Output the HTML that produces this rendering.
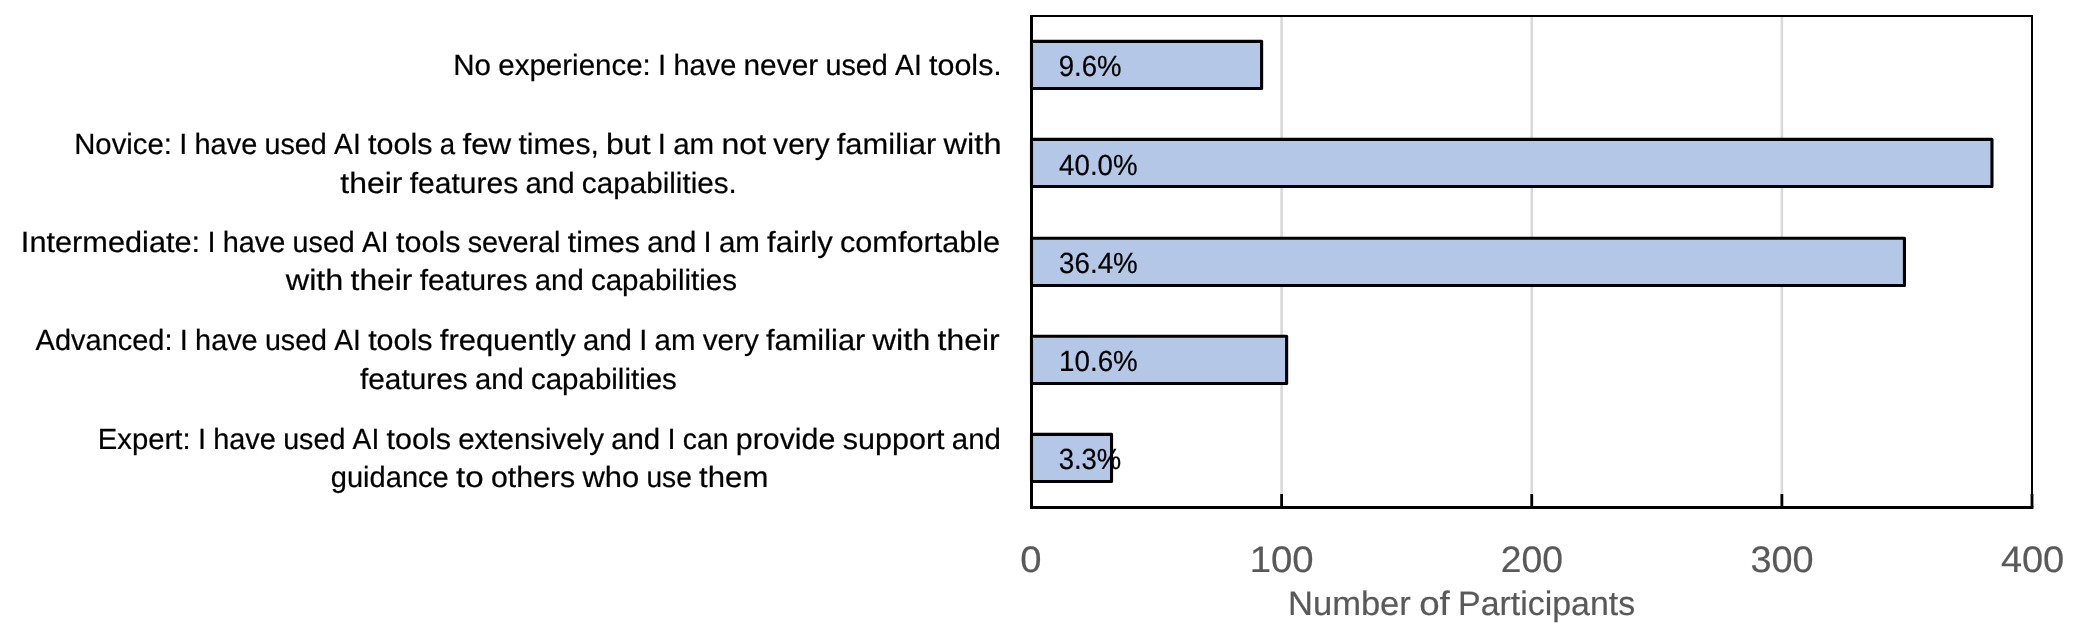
<!DOCTYPE html>
<html><head><meta charset="utf-8"><title>AI tools experience chart</title><style>
html,body{margin:0;padding:0;background:#fff;overflow:hidden;}
svg{display:block;will-change:transform;}
text{font-family:"Liberation Sans",sans-serif;text-rendering:geometricPrecision;}
</style></head><body>
<svg width="2095" height="631" viewBox="0 0 2095 631">
<rect x="0" y="0" width="2095" height="631" fill="#fff"/>
<line x1="1281.62" y1="17" x2="1281.62" y2="507.5" stroke="#d9d9d9" stroke-width="2.6"/>
<line x1="1531.75" y1="17" x2="1531.75" y2="507.5" stroke="#d9d9d9" stroke-width="2.6"/>
<line x1="1781.88" y1="17" x2="1781.88" y2="507.5" stroke="#d9d9d9" stroke-width="2.6"/>
<line x1="1030.0" y1="16" x2="2033" y2="16" stroke="#000" stroke-width="2"/>
<line x1="2032" y1="15" x2="2032" y2="507.5" stroke="#000" stroke-width="2"/>
<rect x="1031.50" y="41.33" width="230.12" height="47.20" fill="#b4c7e7" stroke="#000" stroke-width="3.1" stroke-linejoin="round"/>
<rect x="1031.50" y="139.35" width="960.48" height="47.20" fill="#b4c7e7" stroke="#000" stroke-width="3.1" stroke-linejoin="round"/>
<rect x="1031.50" y="238.30" width="872.94" height="47.20" fill="#b4c7e7" stroke="#000" stroke-width="3.1" stroke-linejoin="round"/>
<rect x="1031.50" y="336.30" width="255.13" height="47.20" fill="#b4c7e7" stroke="#000" stroke-width="3.1" stroke-linejoin="round"/>
<rect x="1031.50" y="434.35" width="80.04" height="47.20" fill="#b4c7e7" stroke="#000" stroke-width="3.1" stroke-linejoin="round"/>
<line x1="1281.62" y1="494" x2="1281.62" y2="507.5" stroke="#000" stroke-width="2.8"/>
<line x1="1531.75" y1="494" x2="1531.75" y2="507.5" stroke="#000" stroke-width="2.8"/>
<line x1="1781.88" y1="494" x2="1781.88" y2="507.5" stroke="#000" stroke-width="2.8"/>
<line x1="2032.00" y1="494" x2="2032.00" y2="507.5" stroke="#000" stroke-width="2.8"/>
<line x1="1031.5" y1="15" x2="1031.5" y2="509.0" stroke="#000" stroke-width="3"/>
<line x1="1030.0" y1="507.5" x2="2033.4" y2="507.5" stroke="#000" stroke-width="3"/>
<text x="453.31" y="74.80" font-size="29.2" fill="#000" stroke="#000" stroke-width="0.2" textLength="37.73" lengthAdjust="spacingAndGlyphs">No</text>
<text x="498.31" y="74.80" font-size="29.2" fill="#000" stroke="#000" stroke-width="0.2" textLength="152.50" lengthAdjust="spacingAndGlyphs">experience:</text>
<text x="658.08" y="74.80" font-size="29.2" fill="#000" stroke="#000" stroke-width="0.2" textLength="8.10" lengthAdjust="spacingAndGlyphs">I</text>
<text x="673.45" y="74.80" font-size="29.2" fill="#000" stroke="#000" stroke-width="0.2" textLength="62.82" lengthAdjust="spacingAndGlyphs">have</text>
<text x="743.54" y="74.80" font-size="29.2" fill="#000" stroke="#000" stroke-width="0.2" textLength="74.63" lengthAdjust="spacingAndGlyphs">never</text>
<text x="825.44" y="74.80" font-size="29.2" fill="#000" stroke="#000" stroke-width="0.2" textLength="62.36" lengthAdjust="spacingAndGlyphs">used</text>
<text x="895.07" y="74.80" font-size="29.2" fill="#000" stroke="#000" stroke-width="0.2" textLength="26.71" lengthAdjust="spacingAndGlyphs">AI</text>
<text x="929.05" y="74.80" font-size="29.2" fill="#000" stroke="#000" stroke-width="0.2" textLength="72.76" lengthAdjust="spacingAndGlyphs">tools.</text>
<text x="74.21" y="153.90" font-size="29.2" fill="#000" stroke="#000" stroke-width="0.2" textLength="97.71" lengthAdjust="spacingAndGlyphs">Novice:</text>
<text x="179.18" y="153.90" font-size="29.2" fill="#000" stroke="#000" stroke-width="0.2" textLength="8.09" lengthAdjust="spacingAndGlyphs">I</text>
<text x="194.53" y="153.90" font-size="29.2" fill="#000" stroke="#000" stroke-width="0.2" textLength="62.74" lengthAdjust="spacingAndGlyphs">have</text>
<text x="264.53" y="153.90" font-size="29.2" fill="#000" stroke="#000" stroke-width="0.2" textLength="62.29" lengthAdjust="spacingAndGlyphs">used</text>
<text x="334.08" y="153.90" font-size="29.2" fill="#000" stroke="#000" stroke-width="0.2" textLength="26.67" lengthAdjust="spacingAndGlyphs">AI</text>
<text x="368.01" y="153.90" font-size="29.2" fill="#000" stroke="#000" stroke-width="0.2" textLength="64.56" lengthAdjust="spacingAndGlyphs">tools</text>
<text x="439.83" y="153.90" font-size="29.2" fill="#000" stroke="#000" stroke-width="0.2" textLength="15.38" lengthAdjust="spacingAndGlyphs">a</text>
<text x="462.48" y="153.90" font-size="29.2" fill="#000" stroke="#000" stroke-width="0.2" textLength="48.74" lengthAdjust="spacingAndGlyphs">few</text>
<text x="518.47" y="153.90" font-size="29.2" fill="#000" stroke="#000" stroke-width="0.2" textLength="80.34" lengthAdjust="spacingAndGlyphs">times,</text>
<text x="606.07" y="153.90" font-size="29.2" fill="#000" stroke="#000" stroke-width="0.2" textLength="44.50" lengthAdjust="spacingAndGlyphs">but</text>
<text x="657.83" y="153.90" font-size="29.2" fill="#000" stroke="#000" stroke-width="0.2" textLength="8.09" lengthAdjust="spacingAndGlyphs">I</text>
<text x="673.18" y="153.90" font-size="29.2" fill="#000" stroke="#000" stroke-width="0.2" textLength="41.04" lengthAdjust="spacingAndGlyphs">am</text>
<text x="721.48" y="153.90" font-size="29.2" fill="#000" stroke="#000" stroke-width="0.2" textLength="44.57" lengthAdjust="spacingAndGlyphs">not</text>
<text x="773.31" y="153.90" font-size="29.2" fill="#000" stroke="#000" stroke-width="0.2" textLength="56.22" lengthAdjust="spacingAndGlyphs">very</text>
<text x="836.79" y="153.90" font-size="29.2" fill="#000" stroke="#000" stroke-width="0.2" textLength="99.53" lengthAdjust="spacingAndGlyphs">familiar</text>
<text x="943.58" y="153.90" font-size="29.2" fill="#000" stroke="#000" stroke-width="0.2" textLength="57.96" lengthAdjust="spacingAndGlyphs">with</text>
<text x="340.32" y="192.90" font-size="29.2" fill="#000" stroke="#000" stroke-width="0.2" textLength="62.16" lengthAdjust="spacingAndGlyphs">their</text>
<text x="409.73" y="192.90" font-size="29.2" fill="#000" stroke="#000" stroke-width="0.2" textLength="108.50" lengthAdjust="spacingAndGlyphs">features</text>
<text x="525.49" y="192.90" font-size="29.2" fill="#000" stroke="#000" stroke-width="0.2" textLength="49.12" lengthAdjust="spacingAndGlyphs">and</text>
<text x="581.87" y="192.90" font-size="29.2" fill="#000" stroke="#000" stroke-width="0.2" textLength="154.93" lengthAdjust="spacingAndGlyphs">capabilities.</text>
<text x="20.89" y="251.80" font-size="29.2" fill="#000" stroke="#000" stroke-width="0.2" textLength="179.24" lengthAdjust="spacingAndGlyphs">Intermediate:</text>
<text x="207.39" y="251.80" font-size="29.2" fill="#000" stroke="#000" stroke-width="0.2" textLength="8.08" lengthAdjust="spacingAndGlyphs">I</text>
<text x="222.72" y="251.80" font-size="29.2" fill="#000" stroke="#000" stroke-width="0.2" textLength="62.66" lengthAdjust="spacingAndGlyphs">have</text>
<text x="292.62" y="251.80" font-size="29.2" fill="#000" stroke="#000" stroke-width="0.2" textLength="62.20" lengthAdjust="spacingAndGlyphs">used</text>
<text x="362.07" y="251.80" font-size="29.2" fill="#000" stroke="#000" stroke-width="0.2" textLength="26.64" lengthAdjust="spacingAndGlyphs">AI</text>
<text x="395.96" y="251.80" font-size="29.2" fill="#000" stroke="#000" stroke-width="0.2" textLength="64.47" lengthAdjust="spacingAndGlyphs">tools</text>
<text x="467.68" y="251.80" font-size="29.2" fill="#000" stroke="#000" stroke-width="0.2" textLength="92.85" lengthAdjust="spacingAndGlyphs">several</text>
<text x="567.78" y="251.80" font-size="29.2" fill="#000" stroke="#000" stroke-width="0.2" textLength="72.22" lengthAdjust="spacingAndGlyphs">times</text>
<text x="647.26" y="251.80" font-size="29.2" fill="#000" stroke="#000" stroke-width="0.2" textLength="49.06" lengthAdjust="spacingAndGlyphs">and</text>
<text x="703.57" y="251.80" font-size="29.2" fill="#000" stroke="#000" stroke-width="0.2" textLength="8.08" lengthAdjust="spacingAndGlyphs">I</text>
<text x="718.90" y="251.80" font-size="29.2" fill="#000" stroke="#000" stroke-width="0.2" textLength="40.98" lengthAdjust="spacingAndGlyphs">am</text>
<text x="767.13" y="251.80" font-size="29.2" fill="#000" stroke="#000" stroke-width="0.2" textLength="65.57" lengthAdjust="spacingAndGlyphs">fairly</text>
<text x="839.95" y="251.80" font-size="29.2" fill="#000" stroke="#000" stroke-width="0.2" textLength="160.25" lengthAdjust="spacingAndGlyphs">comfortable</text>
<text x="285.72" y="290.40" font-size="29.2" fill="#000" stroke="#000" stroke-width="0.2" textLength="57.65" lengthAdjust="spacingAndGlyphs">with</text>
<text x="350.60" y="290.40" font-size="29.2" fill="#000" stroke="#000" stroke-width="0.2" textLength="61.84" lengthAdjust="spacingAndGlyphs">their</text>
<text x="419.66" y="290.40" font-size="29.2" fill="#000" stroke="#000" stroke-width="0.2" textLength="107.95" lengthAdjust="spacingAndGlyphs">features</text>
<text x="534.84" y="290.40" font-size="29.2" fill="#000" stroke="#000" stroke-width="0.2" textLength="48.87" lengthAdjust="spacingAndGlyphs">and</text>
<text x="590.93" y="290.40" font-size="29.2" fill="#000" stroke="#000" stroke-width="0.2" textLength="146.09" lengthAdjust="spacingAndGlyphs">capabilities</text>
<text x="35.61" y="349.90" font-size="29.2" fill="#000" stroke="#000" stroke-width="0.2" textLength="136.91" lengthAdjust="spacingAndGlyphs">Advanced:</text>
<text x="179.76" y="349.90" font-size="29.2" fill="#000" stroke="#000" stroke-width="0.2" textLength="8.07" lengthAdjust="spacingAndGlyphs">I</text>
<text x="195.08" y="349.90" font-size="29.2" fill="#000" stroke="#000" stroke-width="0.2" textLength="62.59" lengthAdjust="spacingAndGlyphs">have</text>
<text x="264.91" y="349.90" font-size="29.2" fill="#000" stroke="#000" stroke-width="0.2" textLength="62.14" lengthAdjust="spacingAndGlyphs">used</text>
<text x="334.29" y="349.90" font-size="29.2" fill="#000" stroke="#000" stroke-width="0.2" textLength="26.61" lengthAdjust="spacingAndGlyphs">AI</text>
<text x="368.15" y="349.90" font-size="29.2" fill="#000" stroke="#000" stroke-width="0.2" textLength="64.41" lengthAdjust="spacingAndGlyphs">tools</text>
<text x="439.79" y="349.90" font-size="29.2" fill="#000" stroke="#000" stroke-width="0.2" textLength="135.91" lengthAdjust="spacingAndGlyphs">frequently</text>
<text x="582.95" y="349.90" font-size="29.2" fill="#000" stroke="#000" stroke-width="0.2" textLength="49.01" lengthAdjust="spacingAndGlyphs">and</text>
<text x="639.20" y="349.90" font-size="29.2" fill="#000" stroke="#000" stroke-width="0.2" textLength="8.07" lengthAdjust="spacingAndGlyphs">I</text>
<text x="654.52" y="349.90" font-size="29.2" fill="#000" stroke="#000" stroke-width="0.2" textLength="40.94" lengthAdjust="spacingAndGlyphs">am</text>
<text x="702.70" y="349.90" font-size="29.2" fill="#000" stroke="#000" stroke-width="0.2" textLength="56.08" lengthAdjust="spacingAndGlyphs">very</text>
<text x="766.03" y="349.90" font-size="29.2" fill="#000" stroke="#000" stroke-width="0.2" textLength="99.29" lengthAdjust="spacingAndGlyphs">familiar</text>
<text x="872.56" y="349.90" font-size="29.2" fill="#000" stroke="#000" stroke-width="0.2" textLength="57.82" lengthAdjust="spacingAndGlyphs">with</text>
<text x="937.62" y="349.90" font-size="29.2" fill="#000" stroke="#000" stroke-width="0.2" textLength="62.03" lengthAdjust="spacingAndGlyphs">their</text>
<text x="359.91" y="389.00" font-size="29.2" fill="#000" stroke="#000" stroke-width="0.2" textLength="107.81" lengthAdjust="spacingAndGlyphs">features</text>
<text x="474.94" y="389.00" font-size="29.2" fill="#000" stroke="#000" stroke-width="0.2" textLength="48.80" lengthAdjust="spacingAndGlyphs">and</text>
<text x="530.95" y="389.00" font-size="29.2" fill="#000" stroke="#000" stroke-width="0.2" textLength="145.89" lengthAdjust="spacingAndGlyphs">capabilities</text>
<text x="97.78" y="448.50" font-size="29.2" fill="#000" stroke="#000" stroke-width="0.2" textLength="92.87" lengthAdjust="spacingAndGlyphs">Expert:</text>
<text x="197.91" y="448.50" font-size="29.2" fill="#000" stroke="#000" stroke-width="0.2" textLength="8.08" lengthAdjust="spacingAndGlyphs">I</text>
<text x="213.24" y="448.50" font-size="29.2" fill="#000" stroke="#000" stroke-width="0.2" textLength="62.66" lengthAdjust="spacingAndGlyphs">have</text>
<text x="283.15" y="448.50" font-size="29.2" fill="#000" stroke="#000" stroke-width="0.2" textLength="62.21" lengthAdjust="spacingAndGlyphs">used</text>
<text x="352.61" y="448.50" font-size="29.2" fill="#000" stroke="#000" stroke-width="0.2" textLength="26.64" lengthAdjust="spacingAndGlyphs">AI</text>
<text x="386.51" y="448.50" font-size="29.2" fill="#000" stroke="#000" stroke-width="0.2" textLength="64.48" lengthAdjust="spacingAndGlyphs">tools</text>
<text x="458.24" y="448.50" font-size="29.2" fill="#000" stroke="#000" stroke-width="0.2" textLength="145.64" lengthAdjust="spacingAndGlyphs">extensively</text>
<text x="611.13" y="448.50" font-size="29.2" fill="#000" stroke="#000" stroke-width="0.2" textLength="49.07" lengthAdjust="spacingAndGlyphs">and</text>
<text x="667.45" y="448.50" font-size="29.2" fill="#000" stroke="#000" stroke-width="0.2" textLength="8.08" lengthAdjust="spacingAndGlyphs">I</text>
<text x="682.78" y="448.50" font-size="29.2" fill="#000" stroke="#000" stroke-width="0.2" textLength="45.78" lengthAdjust="spacingAndGlyphs">can</text>
<text x="735.81" y="448.50" font-size="29.2" fill="#000" stroke="#000" stroke-width="0.2" textLength="99.61" lengthAdjust="spacingAndGlyphs">provide</text>
<text x="842.67" y="448.50" font-size="29.2" fill="#000" stroke="#000" stroke-width="0.2" textLength="101.94" lengthAdjust="spacingAndGlyphs">support</text>
<text x="951.87" y="448.50" font-size="29.2" fill="#000" stroke="#000" stroke-width="0.2" textLength="49.07" lengthAdjust="spacingAndGlyphs">and</text>
<text x="330.80" y="487.40" font-size="29.2" fill="#000" stroke="#000" stroke-width="0.2" textLength="117.98" lengthAdjust="spacingAndGlyphs">guidance</text>
<text x="456.04" y="487.40" font-size="29.2" fill="#000" stroke="#000" stroke-width="0.2" textLength="27.68" lengthAdjust="spacingAndGlyphs">to</text>
<text x="490.97" y="487.40" font-size="29.2" fill="#000" stroke="#000" stroke-width="0.2" textLength="84.25" lengthAdjust="spacingAndGlyphs">others</text>
<text x="582.48" y="487.40" font-size="29.2" fill="#000" stroke="#000" stroke-width="0.2" textLength="56.73" lengthAdjust="spacingAndGlyphs">who</text>
<text x="646.47" y="487.40" font-size="29.2" fill="#000" stroke="#000" stroke-width="0.2" textLength="45.39" lengthAdjust="spacingAndGlyphs">use</text>
<text x="699.11" y="487.40" font-size="29.2" fill="#000" stroke="#000" stroke-width="0.2" textLength="69.22" lengthAdjust="spacingAndGlyphs">them</text>
<text x="1058.63" y="76.30" font-size="29.2" fill="#000" stroke="#000" stroke-width="0.2" textLength="62.87" lengthAdjust="spacingAndGlyphs">9.6%</text>
<text x="1059.12" y="174.60" font-size="29.2" fill="#000" stroke="#000" stroke-width="0.2" textLength="78.49" lengthAdjust="spacingAndGlyphs">40.0%</text>
<text x="1059.07" y="273.00" font-size="29.2" fill="#000" stroke="#000" stroke-width="0.2" textLength="78.72" lengthAdjust="spacingAndGlyphs">36.4%</text>
<text x="1059.08" y="371.00" font-size="29.2" fill="#000" stroke="#000" stroke-width="0.2" textLength="78.71" lengthAdjust="spacingAndGlyphs">10.6%</text>
<text x="1058.63" y="469.00" font-size="29.2" fill="#000" stroke="#000" stroke-width="0.2" textLength="62.69" lengthAdjust="spacingAndGlyphs">3.3%</text>
<text x="1020.36" y="572.00" font-size="36.8" fill="#595959" stroke="#595959" stroke-width="0.2" textLength="21.25" lengthAdjust="spacingAndGlyphs">0</text>
<text x="1249.68" y="572.00" font-size="36.8" fill="#595959" stroke="#595959" stroke-width="0.2" textLength="64.00" lengthAdjust="spacingAndGlyphs">100</text>
<text x="1500.80" y="572.00" font-size="36.8" fill="#595959" stroke="#595959" stroke-width="0.2" textLength="62.24" lengthAdjust="spacingAndGlyphs">200</text>
<text x="1750.51" y="572.00" font-size="36.8" fill="#595959" stroke="#595959" stroke-width="0.2" textLength="63.18" lengthAdjust="spacingAndGlyphs">300</text>
<text x="2000.90" y="572.00" font-size="36.8" fill="#595959" stroke="#595959" stroke-width="0.2" textLength="63.33" lengthAdjust="spacingAndGlyphs">400</text>
<text x="1287.98" y="614.90" font-size="33.9" fill="#595959" stroke="#595959" stroke-width="0.2" textLength="122.87" lengthAdjust="spacingAndGlyphs">Number</text>
<text x="1419.16" y="614.90" font-size="33.9" fill="#595959" stroke="#595959" stroke-width="0.2" textLength="30.61" lengthAdjust="spacingAndGlyphs">of</text>
<text x="1458.08" y="614.90" font-size="33.9" fill="#595959" stroke="#595959" stroke-width="0.2" textLength="177.10" lengthAdjust="spacingAndGlyphs">Participants</text>
</svg>
</body></html>
